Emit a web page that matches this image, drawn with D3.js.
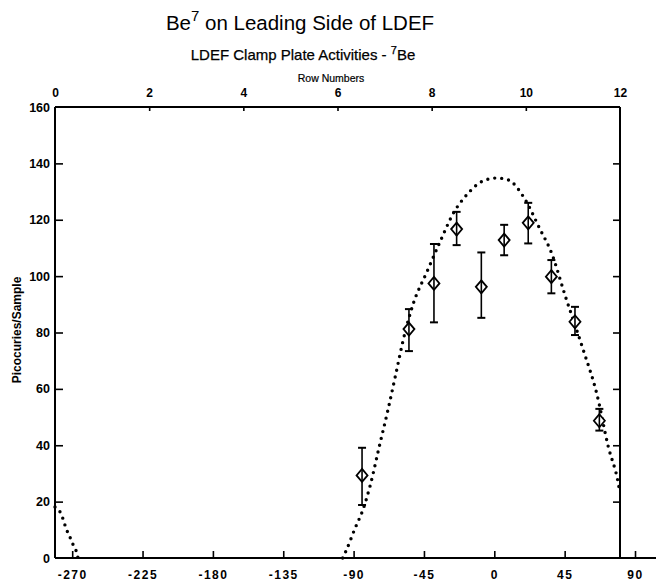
<!DOCTYPE html>
<html>
<head>
<meta charset="utf-8">
<script src="https://cdn.jsdelivr.net/npm/d3@7"></script>
<style>
  html, body { margin: 0; padding: 0; background: #fff; }
  svg { display: block; }
  text { font-family: "Liberation Sans", Arial, Helvetica, sans-serif; fill: #000; }
</style>
</head>
<body>
<svg id="chart" width="656" height="581"></svg>
<script>
// ---- Data ----
const bottomTicks = [-270, -225, -180, -135, -90, -45, 0, 45, 90];
const topTicks = [0, 2, 4, 6, 8, 10, 12];
const yTicks = [0, 20, 40, 60, 80, 100, 120, 140, 160];

// measured clamp-plate activities (angle in degrees from ram direction)
const pointAngle = [-84.6, -54.6, -38.6, -24.1, -8.3, 6.3, 21.7, 36.5, 51.6, 67.2];
const pointValue = [29.3, 81.2, 97.4, 116.7, 96.2, 112.8, 118.9, 99.8, 83.8, 48.7];
const pointUpper = [39.1, 88.3, 111.4, 122.8, 108.4, 118.2, 126.0, 105.7, 89.1, 52.9];
const pointLower = [18.8, 73.4, 83.6, 111.0, 85.2, 107.4, 111.6, 93.9, 79.1, 45.2];

// dotted model curve
const curveAngle = [-97, -95.5, -89.1, -83.8, -79.5, -73.6, -67.8, -62.9, -58.2, -51.8, -43.2, -34.7, -26.2, -17.7, -5.9, 1.5, 9.0, 18.6, 29.2, 36.7, 45.2, 56.9, 65.5, 72.9, 79.3, 80.4];
const curveValue = [0, 1.7, 10.5, 17.5, 25.5, 39.5, 53.1, 65.5, 77.5, 90.3, 101.4, 112.2, 122.3, 128.8, 134.1, 134.8, 134.1, 128.2, 116.7, 108.1, 93.3, 73.8, 58.4, 39.5, 26.5, 23];
// wrap-around piece at the far left
const wrapAngle = [-281, -277.3, -273.5, -270.8, -268.9, -267.1, -266.3];
const wrapValue = [18.1, 15.9, 9.9, 6.6, 4.0, 1.9, 0];

// ---- Layout ----
const svg = d3.select("#chart");
const W = 656;
const x = d3.scaleLinear().domain([-281, 80.4]).range([55, 620]);
const xRow = d3.scaleLinear().domain([0, 12]).range([55, 620]);
const y = d3.scaleLinear().domain([0, 160]).range([558, 107]);

// Titles
const t1 = svg.append("text").attr("x", 300).attr("y", 30)
  .attr("text-anchor", "middle").style("font-size", "20.5px");
t1.append("tspan").text("Be");
t1.append("tspan").attr("dy", -9).style("font-size", "15px").text("7");
t1.append("tspan").attr("dy", 9).text(" on Leading Side of LDEF");

const t2 = svg.append("text").attr("x", 303).attr("y", 60)
  .attr("text-anchor", "middle").style("font-size", "15px")
  .style("stroke", "#000").style("stroke-width", 0.25);
t2.append("tspan").text("LDEF Clamp Plate Activities - ");
t2.append("tspan").attr("dy", -6).style("font-size", "11px").text("7");
t2.append("tspan").attr("dy", 6).text("Be");

svg.append("text").attr("x", 331).attr("y", 82)
  .attr("text-anchor", "middle").style("font-size", "10.5px")
  .style("stroke", "#000").style("stroke-width", 0.2)
  .text("Row Numbers");

// Y title
svg.append("text")
  .attr("transform", "translate(21," + 330 + ") rotate(-90)")
  .attr("text-anchor", "middle")
  .style("font-size", "12px").style("font-weight", "bold")
  .text("Picocuries/Sample");

// ---- Axes ----
function styleAxis(g) {
  g.selectAll(".tick line").attr("stroke", "#000").attr("stroke-width", 1.6);
  g.selectAll("path.domain").remove();
  g.selectAll("text").style("font-weight", "bold").attr("fill", "#000");
}

// left
const gL = svg.append("g").attr("transform", `translate(${x.range()[0]},0)`)
  .call(d3.axisLeft(y).tickValues(yTicks).tickSize(-8).tickPadding(5))
  .call(styleAxis);
gL.selectAll("text").style("font-size", "12.5px");
gL.selectAll(".tick").filter(d => d === 0 || d === 160).select("line").remove();

// right
svg.append("g").attr("transform", `translate(${x.range()[1]},0)`)
  .call(d3.axisRight(y).tickValues(yTicks.filter(d => d > 0 && d < 160)).tickSize(-7).tickFormat(""))
  .call(styleAxis);

// bottom
const gB = svg.append("g").attr("transform", `translate(0,${y(0)})`)
  .call(d3.axisBottom(x).tickValues(bottomTicks).tickSize(-7).tickPadding(12))
  .call(styleAxis);
gB.selectAll("text").style("font-size", "12px").style("letter-spacing", "1.5px")
  .text(d => d < 0 ? "-" + Math.abs(d) : String(d));

// top
const gT = svg.append("g").attr("transform", `translate(0,${y(160)})`)
  .call(d3.axisTop(xRow).tickValues(topTicks).tickSize(-4).tickPadding(10))
  .call(styleAxis);
gT.selectAll("text").style("font-size", "12px");
gT.selectAll(".tick").filter(d => d === 0 || d === 12).select("line").remove();

// frame lines
const frame = svg.append("g").attr("stroke", "#000").attr("stroke-width", 2).attr("fill", "none");
frame.append("line").attr("x1", x.range()[0]).attr("x2", x.range()[0]).attr("y1", y(160)).attr("y2", y(0));
frame.append("line").attr("x1", x.range()[1]).attr("x2", x.range()[1]).attr("y1", y(160)).attr("y2", y(0));
frame.append("line").attr("x1", x.range()[0]).attr("x2", W).attr("y1", y(0)).attr("y2", y(0));
frame.append("line").attr("x1", xRow(0)).attr("x2", xRow(12)).attr("y1", y(160)).attr("y2", y(160));

// ---- Dotted curve ----
const line = d3.line().x(d => x(d[0])).y(d => y(d[1])).curve(d3.curveMonotoneX);
const dotted = g => g.attr("fill", "none").attr("stroke", "#000")
  .attr("stroke-width", 3.4).attr("stroke-linecap", "round")
  .attr("stroke-dasharray", "0,7");
svg.append("path").datum(d3.zip(curveAngle, curveValue)).attr("d", line).call(dotted);
svg.append("path").datum(d3.zip(wrapAngle, wrapValue)).attr("d", line).call(dotted);

// ---- Error bars and diamonds ----
const pts = pointAngle.map((a, i) => ({a, v: pointValue[i], hi: pointUpper[i], lo: pointLower[i]}));
const eg = svg.append("g").attr("stroke", "#000").attr("stroke-width", 1.6).attr("fill", "none");
pts.forEach(p => {
  const cx = x(p.a);
  eg.append("line").attr("x1", cx).attr("x2", cx).attr("y1", y(p.hi)).attr("y2", y(p.lo));
  eg.append("line").attr("x1", cx - 4).attr("x2", cx + 4).attr("y1", y(p.hi)).attr("y2", y(p.hi)).attr("stroke-width", 2);
  eg.append("line").attr("x1", cx - 4).attr("x2", cx + 4).attr("y1", y(p.lo)).attr("y2", y(p.lo)).attr("stroke-width", 2);
  const cy = y(p.v);
  eg.append("path")
    .attr("d", `M${cx},${cy - 6.5}L${cx + 5.5},${cy}L${cx},${cy + 6.5}L${cx - 5.5},${cy}Z`)
    .attr("fill", "#fff").attr("stroke-width", 1.8);
  eg.append("line").attr("x1", cx).attr("x2", cx).attr("y1", cy - 6.5).attr("y2", cy + 6.5);
});
</script>
</body>
</html>
